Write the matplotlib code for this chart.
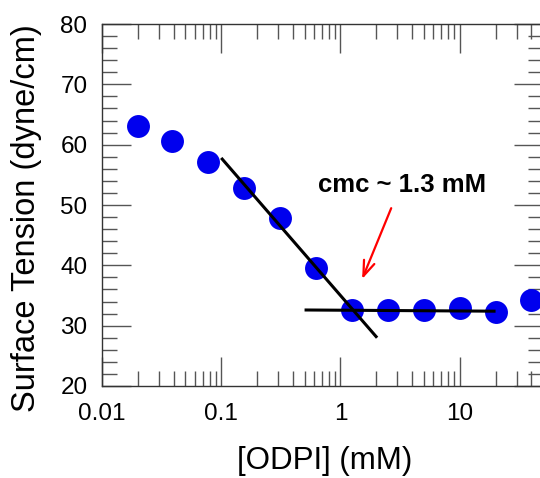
import matplotlib
matplotlib.use("Agg")
import matplotlib.pyplot as plt
from matplotlib.ticker import FixedLocator, MultipleLocator, NullFormatter

plt.rcParams['font.family'] = ['Liberation Sans', 'DejaVu Sans']

# measured surface tension vs ODPI concentration
conc = [0.02, 0.039, 0.078, 0.156, 0.3125, 0.625, 1.25, 2.5, 5, 10, 20, 40]
tension = [63.1, 60.6, 57.2, 52.8, 47.8, 39.5, 32.6, 32.6, 32.6, 32.85, 32.3, 34.3]

# linear fits (in log-x) drawn as two segments
fit_pre_x = [0.1, 2.03]
fit_pre_y = [57.8, 28.0]
fit_post_x = [0.5, 20]
fit_post_y = [32.6, 32.4]

cmc_label = "cmc ~ 1.3 mM"
arrow_tip = (1.49, 37.3)
arrow_tail = (2.72, 49.9)
label_pos = (3.27, 53.3)

fig = plt.figure(figsize=(5.4, 4.78), dpi=100)
ax = fig.add_axes([102 / 540, 1 - 386 / 478, 441 / 540, 362 / 478])

ax.plot(fit_pre_x, fit_pre_y, color='black', lw=2.2, zorder=3, solid_capstyle='butt')
ax.plot(fit_post_x, fit_post_y, color='black', lw=2.2, zorder=3, solid_capstyle='butt')
ax.plot(conc, tension, 'o', color='#0000ee', ms=16.5, mec='none', zorder=2,
        clip_on=False)

ax.annotate("", xy=arrow_tip, xytext=arrow_tail,
            arrowprops=dict(arrowstyle='->,head_length=1.1,head_width=0.4',
                            color='red', lw=1.6))
ax.text(label_pos[0], label_pos[1], cmc_label, ha='center', va='center',
        fontsize=18.5, fontweight='bold')

ax.set_xscale('log')
ax.set_xlim(0.01, 50)
ax.set_ylim(20, 80)

ax.xaxis.set_major_locator(FixedLocator([0.01, 0.1, 1, 10]))
ax.set_xticklabels(['0.01', '0.1', '1', '10'])
minors = [m * d for d in [0.01, 0.1, 1, 10] for m in range(2, 10)]
ax.xaxis.set_minor_locator(FixedLocator(minors))
ax.xaxis.set_minor_formatter(NullFormatter())
ax.yaxis.set_major_locator(MultipleLocator(10))
ax.yaxis.set_minor_locator(MultipleLocator(2))

ax.tick_params(which='both', direction='in', top=True, right=True,
               color='#555555', width=1.0, labelsize=17.5)
ax.tick_params(which='major', length=21)
ax.tick_params(which='minor', length=10.5)
ax.tick_params(axis='x', which='major', pad=12.5)
ax.tick_params(axis='y', which='major', pad=10.5)
for s in ax.spines.values():
    s.set_color('#333333')
    s.set_linewidth(1.0)

ax.set_xlabel('[ODPI] (mM)', fontsize=22.5)
ax.set_ylabel('Surface Tension (dyne/cm)', fontsize=23.5)
ax.xaxis.set_label_coords(0.505, -0.165)
ax.yaxis.set_label_coords(-0.135, 0.465)

fig.savefig('out.png', dpi=100)
